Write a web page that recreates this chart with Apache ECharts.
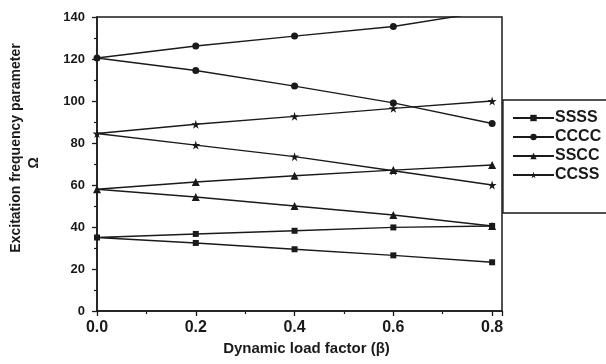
<!DOCTYPE html>
<html>
<head>
<meta charset="utf-8">
<script src="https://cdn.jsdelivr.net/npm/echarts@6/dist/echarts.min.js"></script>
<style>
html,body{margin:0;padding:0;background:#fff;}
#chart{width:606px;height:364px;}
</style>
</head>
<body>
<div id="chart"></div>
<script>
// ---- data ----
var beta = [0, 0.2, 0.4, 0.6, 0.8];
var seriesNames = ['SSSS', 'CCCC', 'SSCC', 'CCSS'];
var ssssUpper = [35, 36.7, 38.2, 39.8, 40.5];
var ssssLower = [35, 32.4, 29.4, 26.5, 23.2];
var ccccUpper = [120.5, 126.2, 130.9, 135.5, 143];
var ccccLower = [120.5, 114.5, 107.1, 99.1, 89.3];
var ssccUpper = [58, 61.4, 64.4, 67.1, 69.5];
var ssccLower = [58, 54.3, 50, 45.7, 40.5];
var ccssUpper = [84.5, 88.9, 92.7, 96.5, 100];
var ccssLower = [84.5, 79, 73.5, 66.8, 60];
var yTicks = [0, 20, 40, 60, 80, 100, 120, 140];
var xTicks = [0.0, 0.2, 0.4, 0.6, 0.8];

function branchPath(upper, lower) {
  var d = [];
  for (var i = beta.length - 1; i >= 0; i--) d.push([beta[i], upper[i]]);
  for (var j = 1; j < beta.length; j++) d.push([beta[j], lower[j]]);
  return d;
}

var starPath = 'path://M50,0 L61,35 L98,35 L68,57 L79,91 L50,70 L21,91 L32,57 L2,35 L39,35 Z';
var symbols = ['rect', 'circle', 'triangle', starPath];
var symbolSizes = [6, 7, 8, 9];
var uppers = [ssssUpper, ccccUpper, ssccUpper, ccssUpper];
var lowers = [ssssLower, ccccLower, ssccLower, ccssLower];
var ink = '#1a1a1a';
var font = 'Liberation Sans, Arial, sans-serif';

var series = seriesNames.map(function (n, k) {
  return {
    name: n,
    type: 'line',
    data: branchPath(uppers[k], lowers[k]),
    symbol: symbols[k],
    symbolSize: symbolSizes[k],
    showAllSymbol: true,
    clip: true,
    lineStyle: { color: ink, width: 1.4 },
    itemStyle: { color: ink, borderWidth: 0 },
    emphasis: { disabled: true },
    animation: false
  };
});

var chart = echarts.init(document.getElementById('chart'), null, { renderer: 'canvas' });
chart.setOption({
  backgroundColor: '#fff',
  animation: false,
  grid: {
    left: 97, right: 104, top: 17, bottom: 53,
    show: true, borderColor: ink, borderWidth: 1.5, backgroundColor: 'transparent'
  },
  xAxis: {
    type: 'value',
    min: 0, max: 0.82, interval: 0.2,
    name: 'Dynamic load factor (β)',
    nameLocation: 'middle',
    nameGap: 29,
    nameTextStyle: { fontFamily: font, fontWeight: 'bold', fontSize: 15, color: ink, padding: [0, 0, 0, 14] },
    axisLine: { show: true, onZero: false, lineStyle: { color: ink, width: 1.5 } },
    axisTick: { show: true, length: 5, lineStyle: { color: ink, width: 1.3 } },
    minorTick: { show: true, splitNumber: 2, length: 3, lineStyle: { color: ink, width: 1.2 } },
    splitLine: { show: false },
    axisLabel: {
      showMaxLabel: false,
      margin: 9,
      fontFamily: font, fontWeight: 'bold', fontSize: 16, color: ink,
      formatter: function (v) {
        for (var i = 0; i < xTicks.length; i++) if (Math.abs(v - xTicks[i]) < 1e-9) return xTicks[i].toFixed(1);
        return '';
      }
    }
  },
  yAxis: {
    type: 'value',
    min: 0, max: 140, interval: 20,
    axisLine: { show: true, onZero: false, lineStyle: { color: ink, width: 1.5 } },
    axisTick: { show: true, length: 5, lineStyle: { color: ink, width: 1.3 } },
    minorTick: { show: true, splitNumber: 2, length: 3, lineStyle: { color: ink, width: 1.2 } },
    splitLine: { show: false },
    axisLabel: {
      margin: 12,
      fontFamily: font, fontWeight: 'bold', fontSize: 13, color: ink,
      formatter: function (v) { return yTicks.indexOf(v) >= 0 ? String(v) : ''; }
    }
  },
  legend: {
    orient: 'vertical',
    left: 503, top: 100,
    padding: [10, 60, 30, 9],
    itemGap: 3,
    itemWidth: 41,
    itemHeight: 8,
    borderColor: ink,
    borderWidth: 1.3,
    backgroundColor: '#fff',
    selectedMode: false,
    textStyle: { fontFamily: font, fontWeight: 'bold', fontSize: 16, color: ink, lineHeight: 16, padding: [0, 0, 0, -4] },
    data: seriesNames
  },
  graphic: [
    {
      type: 'text',
      x: 16, y: 148,
      rotation: Math.PI / 2,
      style: {
        text: 'Excitation frequency parameter',
        fontFamily: font, fontWeight: 'bold', fontSize: 14, fill: ink,
        align: 'center', verticalAlign: 'middle'
      }
    },
    {
      type: 'text',
      x: 34, y: 163,
      rotation: Math.PI / 2,
      style: {
        text: 'Ω',
        fontFamily: font, fontWeight: 'bold', fontSize: 14, fill: ink,
        align: 'center', verticalAlign: 'middle'
      }
    }
  ],
  series: series
});
</script>
</body>
</html>
